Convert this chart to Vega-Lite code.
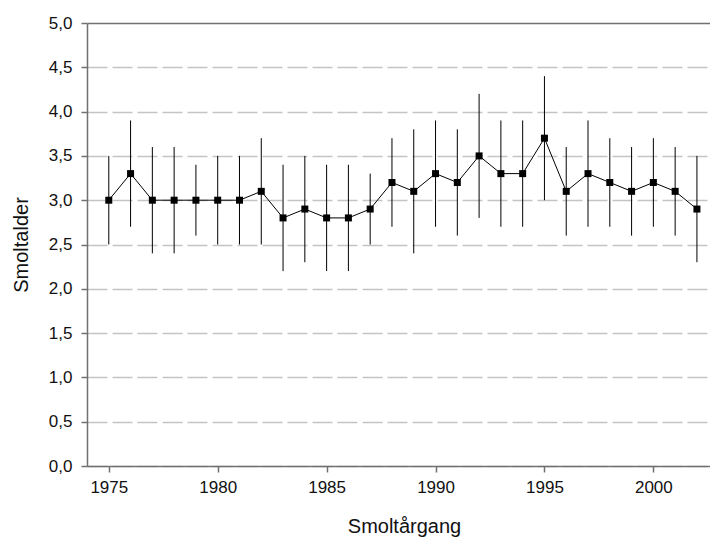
{
  "$schema": "https://vega.github.io/schema/vega-lite/v6.json",
  "width": 623,
  "height": 443,
  "autosize": {"type": "none"},
  "padding": {"left": 87, "top": 23, "right": 0, "bottom": 73},
  "background": "white",
  "config": {
    "view": {"stroke": null},
    "font": "Liberation Sans",
    "axis": {"labelFont": "Liberation Sans", "titleFont": "Liberation Sans", "labelColor": "#111", "titleColor": "#111", "titleFontWeight": "normal"}
  },
  "data": {
    "values": [
      {"year": 1975, "mean": 3.0, "low": 2.5, "high": 3.5},
      {"year": 1976, "mean": 3.3, "low": 2.7, "high": 3.9},
      {"year": 1977, "mean": 3.0, "low": 2.4, "high": 3.6},
      {"year": 1978, "mean": 3.0, "low": 2.4, "high": 3.6},
      {"year": 1979, "mean": 3.0, "low": 2.6, "high": 3.4},
      {"year": 1980, "mean": 3.0, "low": 2.5, "high": 3.5},
      {"year": 1981, "mean": 3.0, "low": 2.5, "high": 3.5},
      {"year": 1982, "mean": 3.1, "low": 2.5, "high": 3.7},
      {"year": 1983, "mean": 2.8, "low": 2.2, "high": 3.4},
      {"year": 1984, "mean": 2.9, "low": 2.3, "high": 3.5},
      {"year": 1985, "mean": 2.8, "low": 2.2, "high": 3.4},
      {"year": 1986, "mean": 2.8, "low": 2.2, "high": 3.4},
      {"year": 1987, "mean": 2.9, "low": 2.5, "high": 3.3},
      {"year": 1988, "mean": 3.2, "low": 2.7, "high": 3.7},
      {"year": 1989, "mean": 3.1, "low": 2.4, "high": 3.8},
      {"year": 1990, "mean": 3.3, "low": 2.7, "high": 3.9},
      {"year": 1991, "mean": 3.2, "low": 2.6, "high": 3.8},
      {"year": 1992, "mean": 3.5, "low": 2.8, "high": 4.2},
      {"year": 1993, "mean": 3.3, "low": 2.7, "high": 3.9},
      {"year": 1994, "mean": 3.3, "low": 2.7, "high": 3.9},
      {"year": 1995, "mean": 3.7, "low": 3.0, "high": 4.4},
      {"year": 1996, "mean": 3.1, "low": 2.6, "high": 3.6},
      {"year": 1997, "mean": 3.3, "low": 2.7, "high": 3.9},
      {"year": 1998, "mean": 3.2, "low": 2.7, "high": 3.7},
      {"year": 1999, "mean": 3.1, "low": 2.6, "high": 3.6},
      {"year": 2000, "mean": 3.2, "low": 2.7, "high": 3.7},
      {"year": 2001, "mean": 3.1, "low": 2.6, "high": 3.6},
      {"year": 2002, "mean": 2.9, "low": 2.3, "high": 3.5}
    ]
  },
  "encoding": {
    "x": {
      "field": "year",
      "type": "quantitative",
      "scale": {"domain": [1974, 2002.6], "nice": false, "zero": false},
      "axis": {
        "title": "Smoltårgang",
        "values": [1975, 1980, 1985, 1990, 1995, 2000],
        "format": "d",
        "grid": false,
        "domainColor": "#707070",
        "domainWidth": 1.5,
        "tickColor": "#707070",
        "tickWidth": 1.5,
        "tickSize": 6,
        "labelFontSize": 17,
        "labelPadding": 7,
        "titleFontSize": 20,
        "titlePadding": 21,
        "titleX": 317
      }
    }
  },
  "layer": [
    {
      "mark": {"type": "rule", "color": "black", "strokeWidth": 1},
      "encoding": {
        "y": {
          "field": "low",
          "type": "quantitative",
          "scale": {"domain": [0, 5], "nice": false},
          "axis": {
            "title": "Smoltalder",
            "values": [0, 0.5, 1, 1.5, 2, 2.5, 3, 3.5, 4, 4.5, 5],
            "labelExpr": "replace(format(datum.value, '.1f'), '.', ',')",
            "grid": true,
            "gridColor": {"condition": {"test": "datum.value === 5", "value": "#707070"}, "value": "#c4c4c4"},
            "gridDash": {"condition": {"test": "datum.value === 5", "value": []}, "value": [20, 5]},
            "gridWidth": 1.5,
            "domainColor": "#707070",
            "domainWidth": 1.5,
            "tickColor": "#707070",
            "tickWidth": 1.5,
            "tickSize": 6,
            "labelFontSize": 17,
            "labelPadding": 9,
            "titleFontSize": 20,
            "titlePadding": 17
          }
        },
        "y2": {"field": "high"}
      }
    },
    {
      "mark": {"type": "line", "color": "black", "strokeWidth": 1},
      "encoding": {"y": {"field": "mean", "type": "quantitative"}}
    },
    {
      "mark": {"type": "point", "shape": "square", "filled": true, "color": "black", "size": 49, "opacity": 1},
      "encoding": {"y": {"field": "mean", "type": "quantitative"}}
    }
  ]
}
